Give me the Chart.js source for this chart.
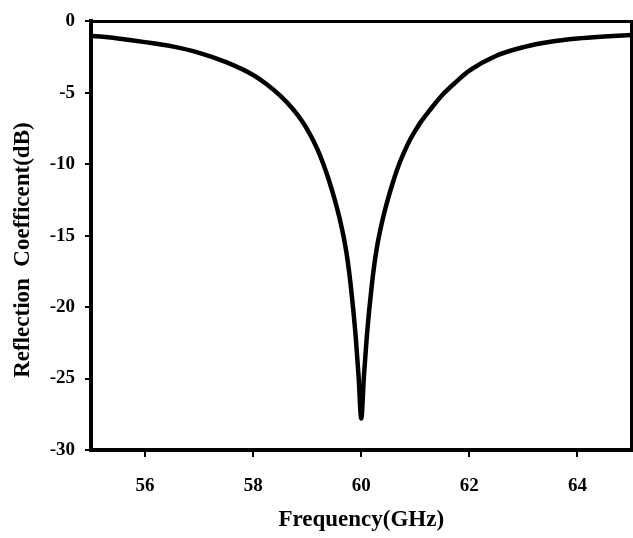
<!DOCTYPE html>
<html>
<head>
<meta charset="utf-8">
<script src="https://cdn.jsdelivr.net/npm/chart.js@4.4.1/dist/chart.umd.min.js"></script>
<style>
  html, body { margin: 0; padding: 0; background: #fff; }
  #wrap { width: 633px; height: 538px; position: relative; }
</style>
</head>
<body>
<div id="wrap"><canvas id="c" width="633" height="538"></canvas></div>
<script>
const frequency = [55, 55.5, 56, 56.5, 57, 57.5, 58, 58.25, 58.5, 58.75, 58.9, 59, 59.1, 59.2, 59.3, 59.4, 59.5, 59.6, 59.7, 59.75, 59.8, 59.85, 59.9, 59.95, 60,
                   60.05, 60.1, 60.15, 60.2, 60.25, 60.3, 60.4, 60.5, 60.6, 60.7, 60.8, 60.9, 61, 61.1, 61.25, 61.5, 61.75, 62, 62.5, 63, 63.5, 64, 64.5, 65];
const reflection = [-1.0, -1.2, -1.45, -1.75, -2.2, -2.85, -3.75, -4.4, -5.2, -6.2, -6.95, -7.55, -8.25, -9.05, -10.0, -11.1, -12.35, -13.8, -15.6, -16.8, -18.3, -20.1, -22.2, -24.8, -27.8,
                    -24.8, -22.2, -20.1, -18.3, -16.8, -15.6, -13.8, -12.35, -11.1, -10.0, -9.1, -8.3, -7.65, -7.05, -6.3, -5.15, -4.25, -3.45, -2.4, -1.8, -1.42, -1.2, -1.06, -0.95];
const xTicks = [56, 58, 60, 62, 64];
const yTicks = [0, -5, -10, -15, -20, -25, -30];
const xTitle = 'Frequency(GHz)';
const yTitle = 'Reflection  Coefficent(dB)     ';

const FONT = "'Liberation Serif', 'Times New Roman', serif";

const framePlugin = {
  id: 'frame',
  afterDatasetsDraw(chart) {
    const {ctx, chartArea: a} = chart;
    ctx.save();
    ctx.strokeStyle = '#000';
    ctx.lineWidth = 3;
    ctx.beginPath();
    ctx.moveTo(a.left, a.top);
    ctx.lineTo(a.right, a.top);
    ctx.lineTo(a.right, a.bottom);
    ctx.stroke();
    ctx.restore();
  }
};

new Chart(document.getElementById('c'), {
  type: 'line',
  data: {
    datasets: [{
      data: frequency.map((f, i) => ({x: f, y: reflection[i]})),
      borderColor: '#000',
      borderWidth: 4.5,
      pointRadius: 0,
      cubicInterpolationMode: 'monotone',
      fill: false
    }]
  },
  options: {
    responsive: false,
    animation: false,
    devicePixelRatio: 1,
    layout: { padding: { top: 20, right: 1.5, left: 0, bottom: 0 } },
    plugins: { legend: { display: false }, tooltip: { enabled: false } },
    scales: {
      x: {
        type: 'linear',
        min: 55, max: 65,
        afterBuildTicks: ax => { ax.ticks = xTicks.map(v => ({value: v})); },
        afterFit: ax => { ax.height = 88; },
        border: { display: true, color: '#000', width: 4 },
        grid: { display: true, drawOnChartArea: false, drawTicks: true, tickLength: 7, color: '#000', lineWidth: 2 },
        ticks: { color: '#000', padding: 18, maxRotation: 0, font: { family: FONT, size: 19, weight: 'bold' } },
        title: { display: true, text: xTitle, color: '#000', padding: { top: 0, bottom: 4 }, font: { family: FONT, size: 23, weight: 'bold' } }
      },
      y: {
        type: 'linear',
        min: -30, max: 0,
        afterBuildTicks: ax => { ax.ticks = yTicks.map(v => ({value: v})); },
        afterFit: ax => { ax.width = 91; },
        border: { display: true, color: '#000', width: 4 },
        grid: { display: true, drawOnChartArea: false, drawTicks: true, tickLength: 6, color: '#000', lineWidth: 2 },
        ticks: { color: '#000', padding: 10, font: { family: FONT, size: 19, weight: 'bold' } },
        title: { display: true, text: yTitle, color: '#000', padding: { top: 9, bottom: 0 }, font: { family: FONT, size: 23, weight: 'bold' } }
      }
    }
  },
  plugins: [framePlugin]
});
</script>
</body>
</html>
